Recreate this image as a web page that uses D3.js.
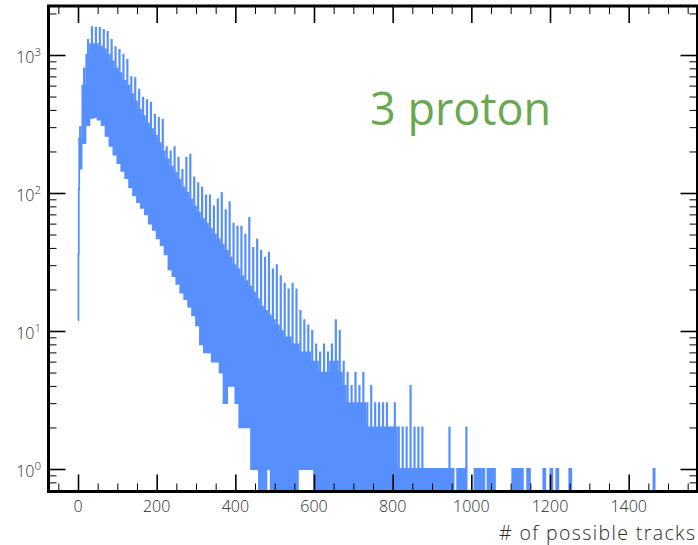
<!DOCTYPE html>
<html><head><meta charset="utf-8">
<script src="https://cdn.jsdelivr.net/npm/d3@7"></script>
<style>
html,body{margin:0;padding:0;background:#fff;}
svg{display:block;}
text{font-family:"Open Sans","Noto Sans",sans-serif;}
</style></head>
<body>
<svg id="chart" width="698" height="545"></svg>
<script>
// ---- data ----
// blocks of 10 units of "# of possible tracks" starting at 0
const blockWidth = 10;
const peakCounts = [300,800,1285,1590,1570,1570,1520,1470,1285,1140,
  1090,1000,920,690,680,560,490,470,450,370,
  350,340,215,200,215,180,147,180,190,130,
  118,110,96,96,80,90,100,75,86,60,
  57,57,50,66,40,46,38,34,37,28,
  30,25,22,20,22,20,14,12,11,10,
  8,7,8,7,8,12,10,6,5,4,
  5,4,5,3,4,3,3,3,3,2,
  3,2,2,2,4,2,2,2,1,1,
  1,1,1];
const denseHigh = [250,600,1000,1200,1200,1150,1100,1000,900,800,
  740,650,600,520,460,400,360,320,290,260,
  230,200,175,155,140,125,110,100,90,80,
  72,65,60,55,50,46,42,38,34,30,
  28,25,23,21,19,17,15,14,13,12,
  11,10,9,9,8,8,7,7,7,6,
  6,5,5,5,6,6,5,4,3,3,
  3,3,3,2,2,2,2,2,2,2,
  2,1,1,1,1,1,1,1,1,1,
  1,1,1];
const denseLow = [150,230,310,350,355,340,310,260,220,190,
  165,145,128,110,96,86,78,70,60,54,
  47,42,36,28,25,22,19,17,15,13,
  11,8,7,7,6,6,5,3,4,4,
  3,2,2,2,1,1,0,0,1,0,
  0,0,0,0,0,0,1,1,1,1,
  0,0,0,0,0,0,0,0,0,0,
  0,0,0,0,0,0,0,0,0,0,
  0,0,0,0,0,0,0,0,0,0,
  0,0,0];
// first bins of the rising edge: [bin, count]
const leadBins = [[0,12],[1,36],[2,107]];
// sparse tail: runs of single counts [from, to, count]
const tailRuns = [[930,954,1],[964,982,1],[1008,1033,1],[1041,1059,1],[1104,1130,1],
  [1142,1148,1],[1183,1188,1],[1201,1206,1],[1216,1221,1],[1249,1254,1],[1463,1466,1]];
const tailSpikes = [[944,2],[987,2]];
const xTicks = [0,200,400,600,800,1000,1200,1400];
const yMajor = [1,10,100,1000];
const yMinor = [0.7,0.8,0.9,2,3,4,5,6,7,8,9,20,30,40,50,60,70,80,90,200,300,400,500,600,700,800,900,2000];
const xLabel = "# of possible tracks";
const annotation = "3 proton";

// ---- build per-bin counts ----
const nBins = 1575;
const counts = new Array(nBins).fill(0);
peakCounts.forEach((p,i)=>{
  for(let k=0;k<blockWidth;k++){
    const b=i*blockWidth+k;
    counts[b] = k===5 ? p : (k%2===1 ? denseHigh[i] : denseLow[i]);
  }
});
leadBins.forEach(([b,c])=>counts[b]=c);
tailRuns.forEach(([a,e,c])=>{ for(let b=a;b<=e;b++) counts[b]=((b-a)%2===0)?c:0; });
tailSpikes.forEach(([b,c])=>counts[b]=c);
const pts = counts.map((c,i)=>[i,c]);
pts.push([nBins,0]);

// ---- layout ----
const L=48.5,R=697.5,T=6,B=491.5;
const svg=d3.select("#chart");
const x=d3.scaleLinear().domain([-75,1575]).range([L,R]);
const y=d3.scaleLog().domain([0.687,2265]).range([B,T]);

svg.append("defs").append("clipPath").attr("id","clip")
  .append("rect").attr("x",L).attr("y",T).attr("width",R-L).attr("height",B-T);

const line=d3.line().x(d=>x(d[0])).y(d=>y(d[1]>0?d[1]:0.3)).curve(d3.curveStepAfter);
svg.append("path").datum(pts).attr("clip-path","url(#clip)")
  .attr("d",line).attr("fill","none").attr("stroke","#5790fc").attr("stroke-width",1.8)
  .attr("stroke-linejoin","miter");

// ---- ticks (inward, all four sides) ----
const xMinor=d3.range(-50,1576,50).filter(v=>v%200!==0);
function addAxis(axis, tr){ const g=svg.append("g").attr("transform",tr).call(axis);
  g.select(".domain").remove(); g.selectAll("text").remove();
  g.selectAll("line").attr("stroke","#000"); return g; }
addAxis(d3.axisBottom(x).tickValues(xTicks).tickSize(-17),`translate(0,${B})`).selectAll("line").attr("stroke-width",1.6);
addAxis(d3.axisBottom(x).tickValues(xMinor).tickSize(-8),`translate(0,${B})`).selectAll("line").attr("stroke-width",1);
addAxis(d3.axisTop(x).tickValues(xTicks).tickSize(-17),`translate(0,${T})`).selectAll("line").attr("stroke-width",1.6);
addAxis(d3.axisTop(x).tickValues(xMinor).tickSize(-8),`translate(0,${T})`).selectAll("line").attr("stroke-width",1);
addAxis(d3.axisLeft(y).tickValues(yMajor).tickSize(-17),`translate(${L},0)`).selectAll("line").attr("stroke-width",1.6);
addAxis(d3.axisLeft(y).tickValues(yMinor).tickSize(-8),`translate(${L},0)`).selectAll("line").attr("stroke-width",1);
addAxis(d3.axisRight(y).tickValues(yMajor).tickSize(-17),`translate(${R},0)`).selectAll("line").attr("stroke-width",1.6);
addAxis(d3.axisRight(y).tickValues(yMinor).tickSize(-8),`translate(${R},0)`).selectAll("line").attr("stroke-width",1);

// frame
svg.append("rect").attr("x",L).attr("y",T).attr("width",R-L).attr("height",B-T)
  .attr("fill","none").attr("stroke","#000").attr("stroke-width",3);

// ---- labels ----
svg.append("g").selectAll("text").data(xTicks).join("text")
  .attr("x",d=>x(d)).attr("y",512).attr("text-anchor","middle")
  .attr("font-size",16).attr("font-weight",300).attr("fill","#2a2a2a").text(d=>d);
const yl=svg.append("g").selectAll("text").data(yMajor).join("text")
  .attr("x",41).attr("y",d=>y(d)+8).attr("text-anchor","end")
  .attr("font-size",16).attr("font-weight",300).attr("fill","#2a2a2a");
yl.append("tspan").text("10");
yl.append("tspan").attr("dy",-7).attr("font-size",11.5).text(d=>Math.round(Math.log10(d)));

svg.append("text").attr("x",695).attr("y",540).attr("text-anchor","end")
  .attr("font-size",19.5).attr("font-weight",300).attr("fill","#2a2a2a")
  .attr("textLength",196).attr("lengthAdjust","spacing").text(xLabel);
svg.append("text").attr("x",370).attr("y",125)
  .attr("font-size",45).attr("fill","#6aa84f").attr("font-family","'Noto Sans',sans-serif").text(annotation);
</script>
</body></html>
